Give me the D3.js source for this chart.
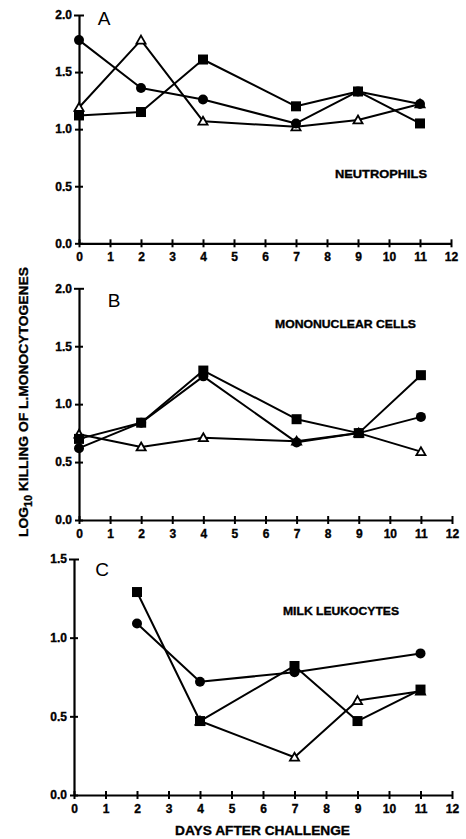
<!DOCTYPE html>
<html>
<head>
<meta charset="utf-8">
<script src="https://cdn.jsdelivr.net/npm/d3@7"></script>
<style>
  html, body { margin: 0; padding: 0; background: #fff; }
  svg { display: block; }
  text { font-family: "Liberation Sans", Arial, Helvetica, sans-serif; fill: #000; }
</style>
</head>
<body>
<svg id="chart" width="466" height="839"></svg>
<script>
// ---------- data ----------
const xTickLabels = [0,1,2,3,4,5,6,7,8,9,10,11,12];

// Panel A - Neutrophils
const aDays     = [0, 2, 4, 7, 9, 11];
const aCircle   = [1.78, 1.36, 1.26, 1.05, 1.33, 1.22];
const aSquare   = [1.12, 1.15, 1.61, 1.20, 1.33, 1.05];
const aTriangle = [1.19, 1.78, 1.07, 1.02, 1.08, 1.22];
const aYTicks   = [0, 0.5, 1.0, 1.5, 2.0];

// Panel B - Mononuclear cells
const bDays     = [0, 2, 4, 7, 9, 11];
const bCircle   = [0.62, 0.84, 1.24, 0.67, 0.75, 0.89];
const bSquare   = [0.70, 0.84, 1.29, 0.87, 0.75, 1.25];
const bTriangle = [0.74, 0.63, 0.71, 0.68, 0.75, 0.59];
const bYTicks   = [0, 0.5, 1.0, 1.5, 2.0];

// Panel C - Milk leukocytes
const cCircleDays   = [2, 4, 7, 11];
const cCircle       = [1.09, 0.72, 0.78, 0.90];
const cSquareDays   = [2, 4, 7, 9, 11];
const cSquare       = [1.29, 0.47, 0.82, 0.47, 0.67];
const cTriangleDays = [4, 7, 9, 11];
const cTriangle     = [0.47, 0.24, 0.60, 0.66];
const cYTicks       = [0, 0.5, 1.0, 1.5];

const panelLetters = ["A", "B", "C"];
const panelNotes = ["NEUTROPHILS", "MONONUCLEAR CELLS", "MILK LEUKOCYTES"];
const xTitle = "DAYS AFTER CHALLENGE";

// ---------- layout ----------
const svg = d3.select("#chart");

const panels = [
  { x0: 79, x1: 451, yTop: 15,    yBot: 243.3, yMax: 2.0, yTicks: aYTicks,
    series: [
      { type: "triangle", days: aDays, vals: aTriangle },
      { type: "circle",   days: aDays, vals: aCircle },
      { type: "square",   days: aDays, vals: aSquare } ],
    letter: { x: 104, y: 25 }, note: { x: 335, y: 177.5, w: 92 } },
  { x0: 79, x1: 452, yTop: 288.3, yBot: 520,   yMax: 2.0, yTicks: bYTicks,
    series: [
      { type: "triangle", days: bDays, vals: bTriangle },
      { type: "circle",   days: bDays, vals: bCircle },
      { type: "square",   days: bDays, vals: bSquare } ],
    letter: { x: 114, y: 306.5 }, note: { x: 275, y: 327.5, w: 141 } },
  { x0: 74, x1: 452, yTop: 559,   yBot: 795,   yMax: 1.5, yTicks: cYTicks,
    series: [
      { type: "triangle", days: cTriangleDays, vals: cTriangle },
      { type: "circle",   days: cCircleDays,   vals: cCircle },
      { type: "square",   days: cSquareDays,   vals: cSquare } ],
    letter: { x: 102, y: 576 }, note: { x: 283, y: 615, w: 116 } }
];

const heavy = sel => sel.attr("font-weight", "bold")
  .attr("stroke", "#000").attr("stroke-width", 0.35)
  .style("font-family", "'Liberation Sans', Arial, sans-serif");

panels.forEach((p, i) => {
  const x = d3.scaleLinear().domain([0, 12]).range([p.x0, p.x1]);
  const y = d3.scaleLinear().domain([0, p.yMax]).range([p.yBot, p.yTop]);
  const g = svg.append("g");

  // x axis
  const xa = g.append("g")
    .attr("transform", `translate(0,${p.yBot})`)
    .call(d3.axisBottom(x).tickValues(xTickLabels).tickFormat(d3.format("d"))
      .tickSize(4).tickSizeOuter(0).tickPadding(5));
  xa.selectAll(".tick line").attr("y1", -4).attr("stroke-width", 2);
  xa.select(".domain").attr("stroke-width", 2.2);
  xa.selectAll("text").attr("font-size", 12).call(heavy);

  // y axis
  const ya = g.append("g")
    .attr("transform", `translate(${p.x0},0)`)
    .call(d3.axisLeft(y).tickValues(p.yTicks).tickFormat(d3.format(".1f"))
      .tickSize(4).tickSizeOuter(0).tickPadding(3));
  ya.selectAll(".tick line").attr("x1", 4).attr("stroke-width", 2);
  ya.select(".domain").attr("stroke-width", 2.2);
  ya.selectAll("text").attr("font-size", 12).call(heavy);
  ya.selectAll(".tick line").filter(d => d === p.yMax).attr("x1", 5).attr("x2", -5);

  // lines
  const line = d3.line().x(d => x(d[0])).y(d => y(d[1]));
  p.series.forEach(s => {
    const pts = s.days.map((d, k) => [d, s.vals[k]]);
    g.append("path").datum(pts)
      .attr("d", line)
      .attr("fill", "none")
      .attr("stroke", "#000")
      .attr("stroke-width", 2)
      .attr("stroke-linejoin", "round");
  });

  // markers
  p.series.forEach(s => {
    const pts = s.days.map((d, k) => [d, s.vals[k]]);
    const mg = g.append("g");
    if (s.type === "circle") {
      mg.selectAll("circle").data(pts).join("circle")
        .attr("cx", d => x(d[0])).attr("cy", d => y(d[1])).attr("r", 5)
        .attr("fill", "#000");
    } else if (s.type === "square") {
      mg.selectAll("rect").data(pts).join("rect")
        .attr("x", d => x(d[0]) - 5).attr("y", d => y(d[1]) - 5)
        .attr("width", 10).attr("height", 10).attr("fill", "#000");
    } else {
      const tri = d3.symbol().type(d3.symbolTriangle).size(36);
      mg.selectAll("path").data(pts).join("path")
        .attr("transform", d => `translate(${x(d[0])},${y(d[1]) + 0.8})`)
        .attr("d", tri)
        .attr("fill", "#fff").attr("stroke", "#000").attr("stroke-width", 1.8);
    }
  });

  // panel letter
  g.append("text").attr("x", p.letter.x).attr("y", p.letter.y)
    .attr("text-anchor", "middle").attr("font-size", 19)
    .text(panelLetters[i]);

  // note
  g.append("text").attr("x", p.note.x).attr("y", p.note.y)
    .attr("font-size", 11).call(heavy)
    .attr("textLength", p.note.w).attr("lengthAdjust", "spacingAndGlyphs")
    .text(panelNotes[i]);
});

// x-axis title
svg.append("text").attr("x", 175).attr("y", 834.5)
  .attr("font-size", 13).call(heavy)
  .attr("textLength", 175).attr("lengthAdjust", "spacingAndGlyphs")
  .text(xTitle);

// y-axis title
const yt = svg.append("text")
  .attr("transform", "translate(28,402) rotate(-90)")
  .attr("text-anchor", "middle")
  .attr("font-size", 13).call(heavy)
  .attr("textLength", 270).attr("lengthAdjust", "spacingAndGlyphs");
yt.append("tspan").text("LOG");
yt.append("tspan").attr("font-size", 10).attr("dy", 4).text("10");
yt.append("tspan").attr("dy", -4).text(" KILLING OF L.MONOCYTOGENES");
</script>
</body>
</html>
